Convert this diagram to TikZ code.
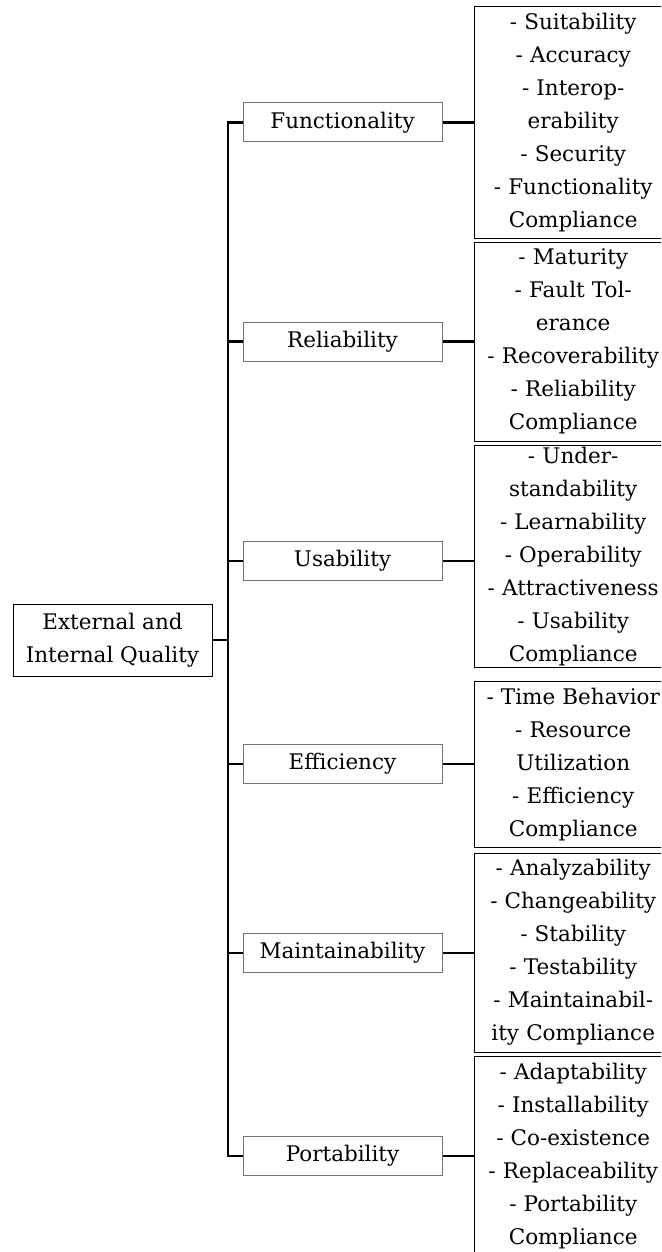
\documentclass[tikz,border=0pt]{standalone}
\usepackage{fontspec}
\setmainfont{DejaVu Serif}
\begin{document}
\begin{tikzpicture}[x=1pt,y=-1pt,
  every node/.style={font=\fontsize{21.5}{33}\selectfont},
  rootbox/.style={draw=black, line width=1pt, minimum width=199pt, minimum height=72pt, inner sep=0pt, align=center},
  catbox/.style={draw=black!55, line width=1pt, minimum width=199pt, minimum height=39pt, inner sep=0pt},
  subbox/.style={minimum width=198pt, text width=190pt, align=center, inner xsep=4pt, inner ysep=0pt, anchor=north west},
  subline/.style={draw=black, line width=1pt},
  conn/.style={line width=2.2pt}]
\useasboundingbox (0,0) rectangle (661,1252);
\clip (0,0) rectangle (661,1252);

\node[rootbox] (root) at (112.5,640) {External and\\Internal Quality};
\coordinate (j) at (228,640);

\node[catbox] (f) at (342.5,122.5) {Functionality};
\node[catbox] (r) at (342.5,341.5) {Reliability};
\node[catbox] (u) at (342.5,561) {Usability};
\node[catbox] (e) at (342.5,764) {Efficiency};
\node[catbox] (m) at (342.5,953) {Maintainability};
\node[catbox] (p) at (342.5,1156) {Portability};

\node[subbox, minimum height=231pt] (fs) at (474,7) {- Suitability\\- Accuracy\\- Interop-\\erability\\- Security\\- Functionality\\Compliance};
\node[subbox, minimum height=199pt] (rs) at (474,242) {- Maturity\\- Fault Tol-\\erance\\- Recoverability\\- Reliability\\Compliance};
\node[subbox, minimum height=222pt] (us) at (474,445) {- Under-\\standability\\- Learnability\\- Operability\\- Attractiveness\\- Usability\\Compliance};
\node[subbox, minimum height=166pt] (es) at (474,681) {- Time Behavior\\- Resource\\Utilization\\- Efficiency\\Compliance};
\node[subbox, minimum height=199pt] (ms) at (474,853) {- Analyzability\\- Changeability\\- Stability\\- Testability\\- Maintainabil-\\ity Compliance};
\node[subbox, minimum height=200pt] (ps) at (474,1056) {- Adaptability\\- Installability\\- Co-existence\\- Replaceability\\- Portability\\Compliance};

\foreach \b in {fs,rs,us,es,ms,ps}
  \draw[subline] (\b.north east) -- (\b.north west) -- (\b.south west) -- (\b.south east);

\draw[conn] (root.east) -- (j);
\draw[conn] (f.west) -| (j) |- (p.west);
\draw[conn] (r.west) -- (r.west -| j);
\draw[conn] (u.west) -- (u.west -| j);
\draw[conn] (e.west) -- (e.west -| j);
\draw[conn] (m.west) -- (m.west -| j);

\draw[conn] (f.east) -- (f.east -| fs.west);
\draw[conn] (r.east) -- (r.east -| rs.west);
\draw[conn] (u.east) -- (u.east -| us.west);
\draw[conn] (e.east) -- (e.east -| es.west);
\draw[conn] (m.east) -- (m.east -| ms.west);
\draw[conn] (p.east) -- (p.east -| ps.west);
\end{tikzpicture}
\end{document}
